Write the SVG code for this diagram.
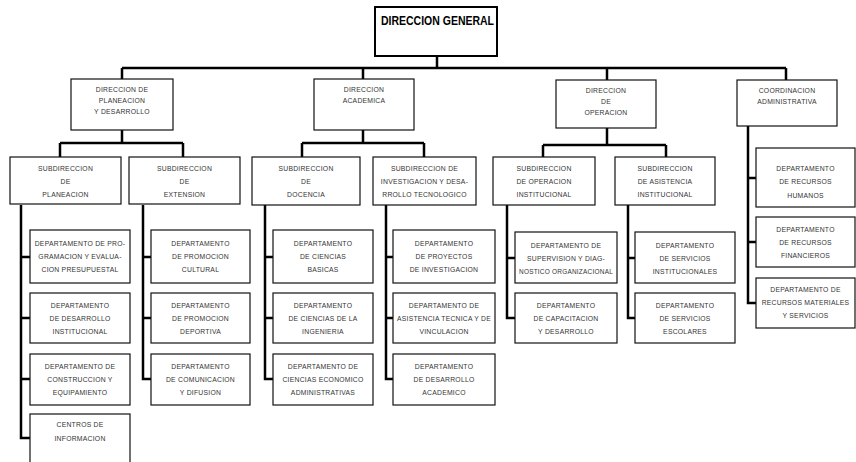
<svg xmlns="http://www.w3.org/2000/svg" width="856" height="462" viewBox="0 0 856 462">
<style>
.bx{fill:#fff;stroke:#111;stroke-width:1.2}
.tb{fill:#fff;stroke:#000;stroke-width:2}
.t{font-family:"Liberation Sans",Arial,sans-serif;font-size:6.8px;letter-spacing:0.25px;fill:#333;text-anchor:middle}
.h{font-family:"Liberation Sans",Arial,sans-serif;font-size:12px;font-weight:bold;fill:#000}
.c{fill:none;stroke:#000;stroke-width:2.5}
</style>
<rect width="856" height="462" fill="#fff"/>
<g id="connectors">
<path class="c" d="M437 56V68M122 68H786M122 68V79M363 68V79M607 68V80M786 68V80"/>
<path class="c" d="M122 130V143M60 143H183M60 143V157M183 143V157"/>
<path class="c" d="M363 130V143M302 143H424M302 143V157M424 143V157"/>
<path class="c" d="M607 128V145M543 145H666M543 145V157M666 145V157"/>
<path class="c" d="M21 205V438H30M21 257H30M21 318H30M21 379H30"/>
<path class="c" d="M143 205V379H151M143 257H151M143 318H151"/>
<path class="c" d="M265 205V379H273M265 257H273M265 318H273"/>
<path class="c" d="M386 205V379H393M386 257H393M386 318H393"/>
<path class="c" d="M507 205V318H515M507 258H515"/>
<path class="c" d="M628 205V318H635M628 258H635"/>
<path class="c" d="M748 126V303H756M748 178H756M748 242H756"/>
</g>
<g id="n-direccion-general">
<rect class="tb" x="375" y="7" width="122" height="49"/>
<text class="h" x="381" y="25" textLength="113" lengthAdjust="spacingAndGlyphs">DIRECCION GENERAL</text>
</g>
<g id="n-dir-planeacion">
<rect class="bx" x="71" y="79" width="102" height="51"/>
<text class="t" x="122" y="91.5">DIRECCION DE</text>
<text class="t" x="122" y="102.5">PLANEACION</text>
<text class="t" x="122" y="113.5">Y DESARROLLO</text>
</g>
<g id="n-dir-academica">
<rect class="bx" x="314" y="79" width="100" height="51"/>
<text class="t" x="364" y="91.5">DIRECCION</text>
<text class="t" x="364" y="102.5">ACADEMICA</text>
</g>
<g id="n-dir-operacion">
<rect class="bx" x="556" y="80" width="100" height="48"/>
<text class="t" x="606" y="92.5">DIRECCION</text>
<text class="t" x="606" y="103.5">DE</text>
<text class="t" x="606" y="114.5">OPERACION</text>
</g>
<g id="n-coord-admin">
<rect class="bx" x="737" y="80" width="100" height="46"/>
<text class="t" x="787" y="92.5">COORDINACION</text>
<text class="t" x="787" y="103.5">ADMINISTRATIVA</text>
</g>
<g id="n-sub-planeacion">
<rect class="bx" x="10" y="157" width="111" height="47"/>
<text class="t" x="65.5" y="170.5">SUBDIRECCION</text>
<text class="t" x="65.5" y="183.5">DE</text>
<text class="t" x="65.5" y="196.5">PLANEACION</text>
</g>
<g id="n-sub-extension">
<rect class="bx" x="129" y="157" width="111" height="47"/>
<text class="t" x="184.5" y="170.5">SUBDIRECCION</text>
<text class="t" x="184.5" y="183.5">DE</text>
<text class="t" x="184.5" y="196.5">EXTENSION</text>
</g>
<g id="n-sub-docencia">
<rect class="bx" x="252" y="157" width="108" height="48"/>
<text class="t" x="306" y="170.5">SUBDIRECCION</text>
<text class="t" x="306" y="183.5">DE</text>
<text class="t" x="306" y="196.5">DOCENCIA</text>
</g>
<g id="n-sub-investigacion">
<rect class="bx" x="373" y="157" width="103" height="48"/>
<text class="t" x="424.5" y="170.5">SUBDIRECCION DE</text>
<text class="t" x="424.5" y="183.5">INVESTIGACION Y DESA-</text>
<text class="t" x="424.5" y="196.5">RROLLO TECNOLOGICO</text>
</g>
<g id="n-sub-operacion">
<rect class="bx" x="493" y="157" width="102" height="48"/>
<text class="t" x="544" y="170.5">SUBDIRECCION</text>
<text class="t" x="544" y="183.5">DE OPERACION</text>
<text class="t" x="544" y="196.5">INSTITUCIONAL</text>
</g>
<g id="n-sub-asistencia">
<rect class="bx" x="615" y="157" width="100" height="48"/>
<text class="t" x="665" y="170.5">SUBDIRECCION</text>
<text class="t" x="665" y="183.5">DE ASISTENCIA</text>
<text class="t" x="665" y="196.5">INSTITUCIONAL</text>
</g>
<g id="n-dep-programacion">
<rect class="bx" x="30" y="230" width="100" height="53"/>
<text class="t" x="80" y="246">DEPARTAMENTO DE PRO-</text>
<text class="t" x="80" y="259">GRAMACION Y EVALUA-</text>
<text class="t" x="80" y="272">CION PRESUPUESTAL</text>
</g>
<g id="n-dep-desarrollo-inst">
<rect class="bx" x="30" y="293" width="100" height="50"/>
<text class="t" x="80" y="307.5">DEPARTAMENTO</text>
<text class="t" x="80" y="320.5">DE DESARROLLO</text>
<text class="t" x="80" y="333.5">INSTITUCIONAL</text>
</g>
<g id="n-dep-construccion">
<rect class="bx" x="30" y="354" width="100" height="51"/>
<text class="t" x="80" y="369">DEPARTAMENTO DE</text>
<text class="t" x="80" y="382">CONSTRUCCION Y</text>
<text class="t" x="80" y="395">EQUIPAMIENTO</text>
</g>
<g id="n-centros-informacion">
<rect class="bx" x="30" y="414" width="100" height="52"/>
<text class="t" x="80" y="426.5">CENTROS DE</text>
<text class="t" x="80" y="440.5">INFORMACION</text>
</g>
<g id="n-dep-prom-cultural">
<rect class="bx" x="151" y="230" width="99" height="53"/>
<text class="t" x="200.5" y="246">DEPARTAMENTO</text>
<text class="t" x="200.5" y="259">DE PROMOCION</text>
<text class="t" x="200.5" y="272">CULTURAL</text>
</g>
<g id="n-dep-prom-deportiva">
<rect class="bx" x="151" y="293" width="99" height="50"/>
<text class="t" x="200.5" y="307.5">DEPARTAMENTO</text>
<text class="t" x="200.5" y="320.5">DE PROMOCION</text>
<text class="t" x="200.5" y="333.5">DEPORTIVA</text>
</g>
<g id="n-dep-comunicacion">
<rect class="bx" x="151" y="354" width="99" height="51"/>
<text class="t" x="200.5" y="369">DEPARTAMENTO</text>
<text class="t" x="200.5" y="382">DE COMUNICACION</text>
<text class="t" x="200.5" y="395">Y DIFUSION</text>
</g>
<g id="n-dep-ciencias-basicas">
<rect class="bx" x="273" y="230" width="100" height="53"/>
<text class="t" x="323" y="246">DEPARTAMENTO</text>
<text class="t" x="323" y="259">DE CIENCIAS</text>
<text class="t" x="323" y="272">BASICAS</text>
</g>
<g id="n-dep-ciencias-ingenieria">
<rect class="bx" x="273" y="293" width="100" height="50"/>
<text class="t" x="323" y="307.5">DEPARTAMENTO</text>
<text class="t" x="323" y="320.5">DE CIENCIAS DE LA</text>
<text class="t" x="323" y="333.5">INGENIERIA</text>
</g>
<g id="n-dep-ciencias-econ">
<rect class="bx" x="273" y="354" width="100" height="51"/>
<text class="t" x="323" y="369">DEPARTAMENTO DE</text>
<text class="t" x="323" y="382">CIENCIAS ECONOMICO</text>
<text class="t" x="323" y="395">ADMINISTRATIVAS</text>
</g>
<g id="n-dep-proyectos">
<rect class="bx" x="393" y="230" width="102" height="53"/>
<text class="t" x="444" y="246">DEPARTAMENTO</text>
<text class="t" x="444" y="259">DE PROYECTOS</text>
<text class="t" x="444" y="272">DE INVESTIGACION</text>
</g>
<g id="n-dep-asistencia-tecnica">
<rect class="bx" x="393" y="293" width="102" height="50"/>
<text class="t" x="444" y="307.5">DEPARTAMENTO DE</text>
<text class="t" x="444" y="320.5" textLength="94" lengthAdjust="spacingAndGlyphs">ASISTENCIA TECNICA Y DE</text>
<text class="t" x="444" y="333.5">VINCULACION</text>
</g>
<g id="n-dep-desarrollo-acad">
<rect class="bx" x="393" y="354" width="102" height="51"/>
<text class="t" x="444" y="369">DEPARTAMENTO</text>
<text class="t" x="444" y="382">DE DESARROLLO</text>
<text class="t" x="444" y="395">ACADEMICO</text>
</g>
<g id="n-dep-supervision">
<rect class="bx" x="515" y="232" width="102" height="51"/>
<text class="t" x="566" y="247.5">DEPARTAMENTO DE</text>
<text class="t" x="566" y="260.5">SUPERVISION Y DIAG-</text>
<text class="t" x="566" y="273.5" textLength="94" lengthAdjust="spacingAndGlyphs">NOSTICO ORGANIZACIONAL</text>
</g>
<g id="n-dep-capacitacion">
<rect class="bx" x="515" y="293" width="102" height="50"/>
<text class="t" x="566" y="307.5">DEPARTAMENTO</text>
<text class="t" x="566" y="320.5">DE CAPACITACION</text>
<text class="t" x="566" y="333.5">Y DESARROLLO</text>
</g>
<g id="n-dep-serv-inst">
<rect class="bx" x="635" y="232" width="100" height="51"/>
<text class="t" x="685" y="247.5">DEPARTAMENTO</text>
<text class="t" x="685" y="260.5">DE SERVICIOS</text>
<text class="t" x="685" y="273.5">INSTITUCIONALES</text>
</g>
<g id="n-dep-serv-escolares">
<rect class="bx" x="635" y="293" width="100" height="50"/>
<text class="t" x="685" y="307.5">DEPARTAMENTO</text>
<text class="t" x="685" y="320.5">DE SERVICIOS</text>
<text class="t" x="685" y="333.5">ESCOLARES</text>
</g>
<g id="n-dep-rh">
<rect class="bx" x="756" y="148" width="99" height="59"/>
<text class="t" x="805.5" y="170.5">DEPARTAMENTO</text>
<text class="t" x="805.5" y="184">DE RECURSOS</text>
<text class="t" x="805.5" y="197.5">HUMANOS</text>
</g>
<g id="n-dep-rf">
<rect class="bx" x="756" y="217" width="99" height="50"/>
<text class="t" x="805.5" y="231.5">DEPARTAMENTO</text>
<text class="t" x="805.5" y="244.5">DE RECURSOS</text>
<text class="t" x="805.5" y="257.5">FINANCIEROS</text>
</g>
<g id="n-dep-rm">
<rect class="bx" x="756" y="278" width="99" height="50"/>
<text class="t" x="805.5" y="292">DEPARTAMENTO DE</text>
<text class="t" x="805.5" y="304.5">RECURSOS MATERIALES</text>
<text class="t" x="805.5" y="317.5">Y SERVICIOS</text>
</g>
</svg>
